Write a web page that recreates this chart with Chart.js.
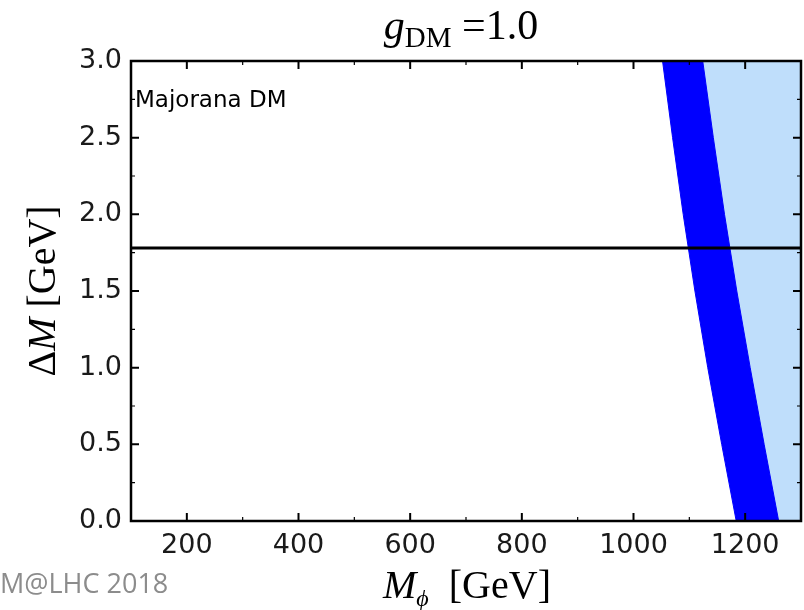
<!DOCTYPE html>
<html>
<head>
<meta charset="utf-8">
<script src="https://cdn.jsdelivr.net/npm/chart.js@4"></script>
<style>
html,body{margin:0;padding:0;background:#fff;}
#wrap{width:804px;height:610px;position:relative;}
</style>
</head>
<body>
<div id="wrap"><canvas id="c" width="804" height="610"></canvas></div>
<script>
// ---- data ----
const edgeY       = [3.0, 2.5, 2.0, 1.5, 1.0, 0.5, 0.0];          // ΔM [GeV]
const bandLeftX   = [1052, 1070, 1089, 1110, 1133, 1158, 1184];   // M_phi, left edge of dark band
const bandRightX  = [1124, 1143, 1163, 1185, 1209, 1234, 1260];   // M_phi, right edge of dark band
const xMin = 100, xMax = 1300;
const yMin = 0, yMax = 3.0;
const lineY = 1.78;                 // horizontal reference line
const xMajorStep = 200, xMinorStep = 100;
const yMajorStep = 0.5, yMinorStep = 0.25;
const annotation = "Majorana DM";
const watermark = "M@LHC 2018";

// ---- build datasets ----
const darkPts = [];
for (let i = 0; i < edgeY.length; i++) darkPts.push({x: bandLeftX[i], y: edgeY[i]});
for (let i = edgeY.length - 1; i >= 0; i--) darkPts.push({x: bandRightX[i], y: edgeY[i]});

const lightPts = [];
for (let i = 0; i < edgeY.length; i++) lightPts.push({x: bandRightX[i], y: edgeY[i]});
lightPts.push({x: xMax, y: yMin});
lightPts.push({x: xMax, y: yMax});

const linePts = [{x: xMin, y: lineY}, {x: xMax, y: lineY}];

const SERIF = '"Liberation Serif", "DejaVu Serif", serif';
const SANS = '"DejaVu Sans", sans-serif';

function drawRuns(ctx, runs, cx, baseline, align) {
  let total = 0;
  runs.forEach(r => { ctx.font = r.font; r.w = ctx.measureText(r.t).width; total += r.w; });
  let x = align === 'center' ? cx - total / 2 : cx;
  runs.forEach(r => {
    ctx.font = r.font;
    ctx.fillText(r.t, x, baseline + (r.dy || 0));
    x += r.w;
  });
}

const decor = {
  id: 'decor',
  afterDatasetsDraw(chart) {
    const ctx = chart.ctx;
    const a = chart.chartArea;
    const xs = chart.scales.x, ys = chart.scales.y;
    ctx.save();
    // frame
    ctx.strokeStyle = '#000';
    ctx.lineWidth = 2.5;
    ctx.strokeRect(a.left, a.top, a.right - a.left, a.bottom - a.top);
    // inward ticks
    xs.ticks.forEach(t => {
      const v = t.value;
      if (v <= xMin || v >= xMax) return;
      const major = Math.abs(v / xMajorStep - Math.round(v / xMajorStep)) < 1e-6;
      const len = major ? 8 : 4;
      ctx.lineWidth = major ? 2 : 1.2;
      const px = xs.getPixelForValue(v);
      ctx.beginPath();
      ctx.moveTo(px, a.bottom); ctx.lineTo(px, a.bottom - len);
      ctx.moveTo(px, a.top); ctx.lineTo(px, a.top + len);
      ctx.stroke();
    });
    ys.ticks.forEach(t => {
      const v = t.value;
      if (v <= yMin + 1e-9 || v >= yMax - 1e-9) return;
      const major = Math.abs(v / yMajorStep - Math.round(v / yMajorStep)) < 1e-6;
      const len = major ? 8 : 4;
      ctx.lineWidth = major ? 2 : 1.2;
      const py = ys.getPixelForValue(v);
      ctx.beginPath();
      ctx.moveTo(a.left, py); ctx.lineTo(a.left + len, py);
      ctx.moveTo(a.right, py); ctx.lineTo(a.right - len, py);
      ctx.stroke();
    });
    // annotation
    ctx.fillStyle = '#000';
    ctx.textBaseline = 'alphabetic';
    ctx.textAlign = 'left';
    ctx.font = '23px ' + SANS;
    ctx.fillText(annotation, a.left + 4, ys.getPixelForValue(2.75) + 8);
    // title
    const cx = (a.left + a.right) / 2 - 5;
    drawRuns(ctx, [
      {t: 'g', font: 'italic 42px ' + SERIF},
      {t: 'DM', font: '29px ' + SERIF, dy: 8},
      {t: ' =1.0', font: '42px ' + SERIF}
    ], cx, 39, 'center');
    // x label
    drawRuns(ctx, [
      {t: 'M', font: 'italic 40px ' + SERIF},
      {t: '\u03d5', font: 'italic 24px ' + SERIF, dy: 8},
      {t: '  [GeV]', font: '40px ' + SERIF}
    ], cx + 6, 598, 'center');
    // y label
    ctx.save();
    ctx.translate(55, (a.top + a.bottom) / 2);
    ctx.rotate(-Math.PI / 2);
    drawRuns(ctx, [
      {t: '\u0394', font: '40px ' + SERIF},
      {t: 'M', font: 'italic 40px ' + SERIF},
      {t: ' [GeV]', font: '40px ' + SERIF}
    ], 0, 0, 'center');
    ctx.restore();
    // watermark
    ctx.fillStyle = '#8c8c8c';
    ctx.font = '27px "Open Sans", sans-serif';
    ctx.fillText(watermark, 0, 593);
    ctx.restore();
  }
};

new Chart(document.getElementById('c'), {
  type: 'scatter',
  data: {
    datasets: [
      {data: lightPts, showLine: true, fill: 'shape', backgroundColor: '#bfdefb', borderColor: '#bfdefb', borderWidth: 1, pointRadius: 0, order: 3, tension: 0},
      {data: darkPts, showLine: true, fill: 'shape', backgroundColor: '#0000ff', borderColor: '#0000ff', borderWidth: 1, pointRadius: 0, order: 2, tension: 0},
      {data: linePts, showLine: true, fill: false, borderColor: '#000', borderWidth: 3, pointRadius: 0, order: 1}
    ]
  },
  options: {
    responsive: false,
    animation: false,
    events: [],
    layout: {padding: {left: 0, right: 3, top: 61, bottom: 0}},
    plugins: {legend: {display: false}, tooltip: {enabled: false}, title: {display: false}},
    scales: {
      x: {
        type: 'linear', min: xMin, max: xMax,
        border: {display: false},
        grid: {display: false, drawTicks: false},
        afterFit(s) { s.height = 89; s.paddingLeft = 0; s.paddingRight = 0; },
        ticks: {
          stepSize: xMinorStep, autoSkip: false, maxRotation: 0, padding: 9,
          color: '#1a1a1a', font: {family: SANS, size: 27},
          callback: v => (v % xMajorStep === 0 && v > xMin && v < xMax) ? String(v) : ''
        }
      },
      y: {
        type: 'linear', min: yMin, max: yMax,
        border: {display: false},
        grid: {display: false, drawTicks: false},
        afterFit(s) { s.width = 131; s.paddingTop = 0; s.paddingBottom = 0; },
        ticks: {
          stepSize: yMinorStep, autoSkip: false, padding: 9,
          color: '#1a1a1a', font: {family: SANS, size: 27},
          callback: v => (Math.abs(v / yMajorStep - Math.round(v / yMajorStep)) < 1e-6) ? v.toFixed(1) : ''
        }
      }
    }
  },
  plugins: [decor]
});
</script>
</body>
</html>
